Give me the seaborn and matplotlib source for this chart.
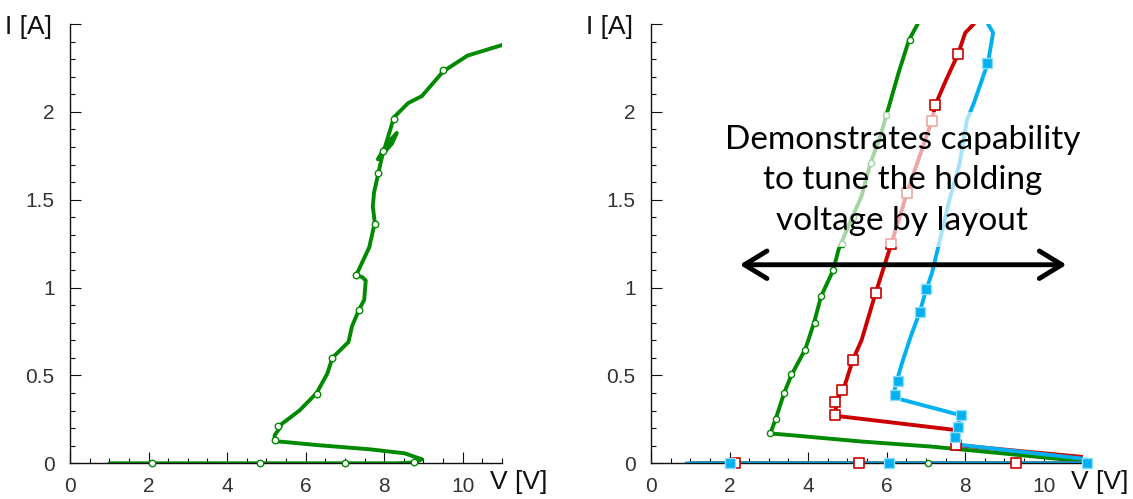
import matplotlib
matplotlib.use("Agg")
import matplotlib.pyplot as plt
import numpy as np
import seaborn as sns
from matplotlib.ticker import MultipleLocator, FuncFormatter

# left panel: single device, green
v_left = [1.0, 2.1, 4.85, 7.0, 8.3, 8.77, 8.96, 8.52, 7.62, 6.28, 5.39, 5.21, 5.21, 5.34, 5.39,
          5.84, 6.28, 6.55, 6.68, 6.86, 7.09, 7.18, 7.35, 7.49, 7.53, 7.44, 7.28, 7.35, 7.62,
          7.76, 7.71, 7.74, 7.85, 7.98, 8.16, 8.32, 8.2, 7.84, 8.02, 8.25, 8.61, 8.96, 9.5,
          10.12, 11.0]
i_left = [0.0, 0.0, 0.0, 0.0, 0.0, 0.005, 0.023, 0.057, 0.08, 0.104, 0.123, 0.123, 0.16, 0.2,
          0.224, 0.30, 0.40, 0.51, 0.60, 0.64, 0.69, 0.78, 0.87, 0.93, 1.04, 1.06, 1.07, 1.10,
          1.23, 1.37, 1.46, 1.54, 1.65, 1.78, 1.84, 1.88, 1.82, 1.73, 1.80, 1.97, 2.05, 2.09,
          2.23, 2.32, 2.38]
v_left_pts = [2.1, 4.85, 7.0, 8.77, 5.21, 5.3, 6.28, 6.68, 7.35, 7.28, 7.76, 7.85, 7.98, 8.25, 9.5]
i_left_pts = [0.0, 0.0, 0.0, 0.005, 0.13, 0.21, 0.395, 0.60, 0.87, 1.07, 1.36, 1.65, 1.78, 1.96, 2.24]

# right panel: three layouts
v_green = [1.0, 7.06, 11.07, 11.07, 8.93, 7.15, 5.36, 3.57, 3.04, 3.17, 3.39, 3.57, 3.93, 4.15,
           4.33, 4.64, 4.78, 5.14, 5.36, 5.59, 5.81, 5.99, 6.07, 6.3, 6.57, 6.79]
i_green = [0.0, 0.0, 0.0, 0.01, 0.057, 0.095, 0.124, 0.16, 0.17, 0.25, 0.40, 0.50, 0.65, 0.80,
           0.95, 1.10, 1.22, 1.41, 1.52, 1.71, 1.84, 1.98, 2.04, 2.22, 2.41, 2.5]
v_green_pts = [7.06, 3.04, 3.17, 3.39, 3.57, 3.93, 4.18, 4.32, 4.63, 4.87, 5.14, 5.61, 5.99, 6.59]
i_green_pts = [0.0, 0.17, 0.25, 0.40, 0.51, 0.645, 0.80, 0.95, 1.10, 1.25, 1.40, 1.71, 1.98, 2.41]

v_red = [1.0, 11.0, 11.1, 7.77, 7.73, 4.72, 4.69, 4.9, 5.14, 5.36, 5.72, 6.12, 6.52, 7.15,
         7.24, 7.51, 7.82, 8.0, 8.22]
i_red = [0.0, 0.0, 0.034, 0.104, 0.19, 0.27, 0.35, 0.42, 0.59, 0.70, 0.97, 1.25, 1.54, 1.95,
         2.04, 2.18, 2.33, 2.45, 2.5]
v_red_pts = [2.14, 5.29, 9.29, 7.77, 4.69, 4.69, 4.87, 5.14, 5.72, 6.1, 6.52, 7.15, 7.22, 7.82]
i_red_pts = [0.0, 0.0, 0.0, 0.104, 0.275, 0.35, 0.42, 0.59, 0.97, 1.25, 1.54, 1.95, 2.04, 2.33]

v_blue = [0.9, 11.1, 11.14, 7.91, 7.73, 7.76, 7.82, 7.86, 6.26, 6.17, 6.26, 6.39, 6.61, 6.84,
          7.01, 7.15, 7.28, 7.6, 7.86, 8.04, 8.22, 8.58, 8.71, 8.58]
i_blue = [0.0, 0.0, 0.023, 0.104, 0.142, 0.18, 0.2, 0.275, 0.37, 0.39, 0.47, 0.57, 0.72, 0.86,
          0.99, 1.08, 1.2, 1.5, 1.71, 1.95, 2.05, 2.28, 2.45, 2.5]
v_blue_pts = [2.01, 6.06, 11.1, 7.73, 7.82, 7.88, 6.21, 6.28, 6.84, 7.01, 8.56]
i_blue_pts = [0.0, 0.0, 0.0, 0.15, 0.205, 0.275, 0.39, 0.47, 0.86, 0.99, 2.28]

GREEN = "#008a00"
RED = "#cc0000"
BLUE = "#00b0f0"

sns.set_style("white")
plt.rcParams['font.family'] = ['Liberation Sans', 'DejaVu Sans']

fig = plt.figure(figsize=(11.33, 4.99), dpi=100)
ax1 = fig.add_axes([0.0618, 0.0715, 0.3813, 0.8804])
ax2 = fig.add_axes([0.5746, 0.0715, 0.3813, 0.8804])


def style_axes(ax):
    ax.set_xlim(0, 11)
    ax.set_ylim(0, 2.5)
    for s in ["top", "right"]:
        ax.spines[s].set_visible(False)
    for s in ["left", "bottom"]:
        ax.spines[s].set_color("#111111")
        ax.spines[s].set_linewidth(1.0)
    ax.xaxis.set_major_locator(MultipleLocator(2))
    ax.xaxis.set_minor_locator(MultipleLocator(0.5))
    ax.yaxis.set_major_locator(MultipleLocator(0.5))
    ax.yaxis.set_minor_locator(MultipleLocator(0.1))
    ax.xaxis.set_major_formatter(FuncFormatter(lambda v, p: "" if v > 10.5 else f"{v:g}"))
    ax.yaxis.set_major_formatter(FuncFormatter(lambda v, p: "" if v > 2.25 else f"{v:g}"))
    ax.tick_params(which="both", direction="in", color="#111111", width=0.8,
                   bottom=True, left=True, top=False, right=False,
                   labelsize=15, labelcolor="#333333")
    ax.tick_params(which="major", length=8)
    ax.tick_params(which="minor", length=3.5)
    ax.tick_params(axis="x", pad=10)
    ax.tick_params(axis="y", pad=11)
    ax.set_ylabel("I [A]", rotation=0, ha="right", va="center", fontsize=19, color="#111111")
    ax.yaxis.set_label_coords(-0.042, 0.994)
    ax.set_xlabel("V [V]", ha="left", va="center", fontsize=19, color="#111111")
    ax.xaxis.set_label_coords(0.972, -0.043)


def curve(ax, v, i, color, lw=2.8):
    sns.lineplot(x=v, y=i, sort=False, estimator=None, ax=ax, color=color, lw=lw, zorder=2)


# left panel
curve(ax1, v_left, i_left, GREEN)
sns.scatterplot(x=v_left_pts, y=i_left_pts, ax=ax1, marker="o", s=22, color="white",
                edgecolor=GREEN, linewidth=1.0, zorder=3, clip_on=False)
style_axes(ax1)

# right panel
curve(ax2, v_green, i_green, GREEN)
curve(ax2, v_red, i_red, RED)
curve(ax2, v_blue, i_blue, BLUE)
sns.scatterplot(x=v_green_pts, y=i_green_pts, ax=ax2, marker="o", s=20, color="white",
                edgecolor=GREEN, linewidth=1.0, zorder=3, clip_on=False)
sns.scatterplot(x=v_red_pts, y=i_red_pts, ax=ax2, marker="s", s=42, color="white",
                edgecolor=RED, linewidth=1.2, zorder=3, clip_on=False)
sns.scatterplot(x=v_blue_pts, y=i_blue_pts, ax=ax2, marker="s", s=42, color=BLUE,
                edgecolor="#8fdcf8", linewidth=1.0, zorder=3, clip_on=False)
style_axes(ax2)

# washed-out box behind the annotation
ax2.axhspan(1.23, 2.0, xmin=1.9 / 11, xmax=10.9 / 11, color="white", alpha=0.65, lw=0, zorder=4)
ax2.text(6.4, 1.61, "Demonstrates capability\nto tune the holding\nvoltage by layout",
         ha="center", va="center", fontsize=24, family=["Lato", "DejaVu Sans"],
         color="black", linespacing=1.45, zorder=5)
ax2.annotate("", xy=(10.65, 1.13), xytext=(2.19, 1.13),
             arrowprops=dict(arrowstyle="<->, head_length=0.9, head_width=0.55",
                             lw=3.5, color="black", mutation_scale=18),
             zorder=6)

fig.savefig("out.png", dpi=100)
